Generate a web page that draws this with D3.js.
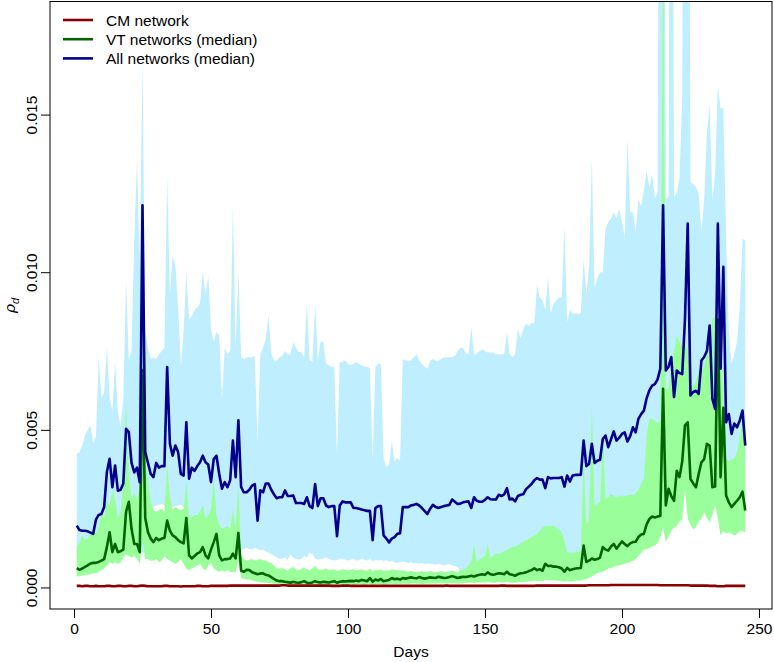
<!DOCTYPE html>
<html>
<head>
<meta charset="utf-8">
<script src="https://cdn.jsdelivr.net/npm/d3@7"></script>
<style>
  body { margin: 0; background: #fff; }
  svg { display: block; }
  text { font-family: "Liberation Sans", Arial, sans-serif; }
</style>
</head>
<body>
<div id="chart"></div>
<script>
// values are in units of 1e-3, one per day (days 1..245)
const allMed = [
  1.96,1.82,1.80,1.80,1.78,1.74,1.70,2.15,2.30,2.33,
  2.55,3.66,4.08,3.18,3.87,3.07,3.10,3.30,5.03,4.93,
  3.95,3.65,3.80,3.34,12.12,4.30,3.95,3.60,3.50,3.95,
  3.80,3.85,3.85,6.99,4.56,4.18,4.50,4.30,3.60,3.55,
  5.24,3.45,3.80,3.70,3.85,3.97,4.18,3.97,3.90,3.34,
  4.07,4.18,3.60,3.13,3.34,3.18,3.40,4.66,3.50,5.30,
  3.18,3.02,3.02,3.10,3.23,3.28,2.12,3.08,3.02,3.30,
  3.30,3.10,2.95,2.83,2.86,2.86,3.08,2.90,2.90,2.92,
  2.68,2.68,2.68,2.65,2.86,2.58,2.52,3.28,2.58,2.83,
  2.83,2.60,2.55,2.58,2.58,1.63,2.60,2.73,2.70,2.70,
  2.70,2.52,2.52,2.50,2.47,2.45,2.43,2.43,1.50,2.52,
  2.58,2.58,1.65,1.55,1.43,1.55,1.60,1.70,1.72,2.55,
  2.55,2.55,2.60,2.62,2.65,2.60,2.52,2.42,2.33,2.50,
  2.62,2.55,2.52,2.55,2.58,2.60,2.62,2.79,2.72,2.65,
  2.66,2.70,2.72,2.73,2.52,2.86,2.75,2.72,2.72,2.78,
  2.86,2.80,2.79,2.79,2.94,2.90,2.95,3.15,2.79,2.82,
  2.73,2.90,2.94,2.96,3.12,3.20,3.28,3.40,3.47,3.42,
  3.42,3.15,3.50,3.46,3.47,3.47,3.47,3.50,3.20,3.55,
  3.36,3.55,3.57,3.57,3.58,4.66,3.85,3.92,4.56,3.95,
  4.02,4.05,4.71,4.82,4.45,4.70,4.95,4.66,4.75,4.87,
  4.92,4.63,4.80,5.08,4.92,5.35,5.50,5.61,6.00,6.25,
  6.40,6.45,6.60,6.94,12.12,6.88,7.00,7.31,6.04,6.88,
  6.80,6.77,8.52,11.54,6.09,6.20,6.24,6.14,7.20,7.31,
  7.50,8.31,5.98,5.66,11.54,6.94,10.17,5.24,5.50,4.87,
  5.20,5.08,5.30,5.61,4.50
];
const allUp = [
  4.24,4.29,4.50,4.82,5.00,5.14,4.60,4.80,7.31,6.00,
  6.20,7.63,6.00,5.60,7.15,5.60,5.10,6.00,9.74,7.20,
  7.50,11.06,13.60,10.20,16.70,8.10,7.60,7.25,7.30,7.25,
  7.40,7.50,7.60,13.07,9.30,10.53,10.20,8.90,7.04,8.10,
  10.00,8.50,8.60,8.80,8.90,9.00,10.00,9.30,9.90,8.20,
  7.80,8.10,8.00,5.98,7.60,7.40,7.50,12.12,7.60,10.00,
  7.30,7.25,7.30,7.30,7.30,7.35,4.60,7.40,7.60,7.90,
  8.63,7.40,7.20,7.20,7.30,7.35,7.50,7.40,7.40,7.78,
  7.60,7.47,7.47,7.30,9.00,7.20,7.15,9.05,7.20,7.80,
  7.80,7.10,7.05,7.00,7.00,4.18,7.15,7.15,7.20,7.10,
  7.05,7.10,7.15,7.10,7.05,7.00,7.00,6.95,4.08,7.00,
  7.10,7.10,4.08,3.82,3.90,4.66,4.00,4.10,4.03,7.25,
  7.20,7.20,7.20,7.30,7.40,7.20,7.10,7.00,6.94,7.20,
  7.25,7.20,7.20,7.25,7.30,7.30,7.30,7.30,7.35,7.50,
  7.60,7.60,7.41,7.40,8.26,7.40,7.40,7.50,7.55,7.50,
  7.45,7.45,7.45,7.40,7.40,7.40,7.40,8.10,7.40,7.30,
  7.40,8.20,7.90,8.20,8.37,8.30,8.40,8.37,9.58,9.20,
  9.10,8.80,9.85,8.70,9.00,9.10,9.20,9.20,11.49,8.42,
  8.80,8.70,8.68,8.68,8.70,10.43,9.30,10.21,13.60,9.50,
  9.80,10.00,10.00,11.38,11.59,11.70,11.91,11.70,12.00,11.60,
  11.12,14.24,11.90,11.90,11.27,12.30,12.10,12.60,13.23,12.70,
  13.10,12.33,12.55,40.00,45.00,12.30,12.40,40.00,12.40,12.50,
  13.00,15.60,40.00,40.00,12.86,12.80,12.70,12.50,11.27,12.30,
  14.45,15.30,12.30,13.10,15.93,15.20,15.20,11.06,8.10,7.10,
  7.40,7.80,8.90,11.06,11.00
];
const allLo = [
  1.10,1.10,1.10,1.10,1.10,1.10,1.10,1.10,1.10,1.10,
  1.10,1.10,1.10,1.10,1.10,1.10,1.10,1.10,1.10,1.10,
  1.10,1.10,1.10,1.10,1.10,1.10,1.10,1.10,2.55,2.60,
  2.62,2.65,2.60,2.65,2.62,2.55,2.58,2.60,2.62,2.55,
  1.60,1.60,1.60,1.60,1.60,1.60,1.60,1.60,1.60,1.60,
  1.60,1.60,1.60,1.60,1.60,1.60,1.60,1.60,1.60,1.60,
  1.20,1.22,1.25,1.22,1.20,1.25,1.22,1.18,1.20,1.15,
  1.10,1.05,1.00,0.95,0.90,0.92,0.95,0.88,1.05,0.95,
  0.90,0.88,0.92,1.00,0.95,1.10,1.05,0.92,0.88,0.90,
  0.92,0.95,0.90,0.88,0.85,0.88,0.90,0.92,0.88,0.85,
  0.88,0.90,0.85,0.87,0.90,0.88,0.85,0.90,0.82,0.88,
  0.85,0.88,0.84,0.86,0.82,0.85,0.80,0.78,0.80,0.82,
  0.80,0.78,0.80,0.76,0.78,0.75,0.78,0.74,0.76,0.75,
  0.74,0.72,0.75,0.72,0.70,0.72,0.74,0.70,0.68,0.65,
  0.50,0.50,0.45,0.45,0.45,0.45,0.45,0.45,0.45,0.45,
  0.45,0.45,0.45,0.45,0.45,0.45,0.45,0.45,0.45,0.45,
  0.45,0.45,0.45,0.45,0.45,0.45,0.45,0.45,0.45,0.45,
  0.45,0.45,0.45,0.45,0.45,0.45,0.45,0.45,0.45,0.45,
  0.45,0.45,0.45,0.45,0.45,0.45,0.47,0.50,0.55,0.60,
  0.65,0.68,0.70,0.75,0.80,0.82,0.85,0.89,0.90,0.92,
  0.95,0.98,1.00,1.05,1.10,1.20,1.30,1.40,1.42,1.45,
  1.50,1.53,1.60,1.80,2.10,1.64,1.80,2.00,2.10,2.16,
  2.30,2.37,3.33,2.37,2.20,2.05,2.10,2.30,2.37,2.59,
  2.40,2.27,2.50,2.80,2.40,1.85,2.00,1.90,1.95,1.90,
  1.85,1.90,2.00,1.98,1.95
];
const vtMed = [
  0.61,0.56,0.60,0.65,0.70,0.76,0.78,0.78,0.81,0.85,
  0.90,1.28,1.75,1.12,1.38,1.12,1.15,1.20,2.40,2.72,
  1.86,1.38,1.38,1.12,6.90,2.20,1.75,1.55,1.44,1.57,
  1.50,1.55,1.57,2.12,1.80,1.65,1.60,1.50,1.44,1.40,
  2.20,1.02,0.92,1.00,1.08,1.12,1.28,1.02,0.92,1.20,
  1.44,1.70,1.02,0.86,0.90,0.90,0.92,1.07,0.92,1.73,
  0.53,0.50,0.56,0.55,0.48,0.45,0.42,0.44,0.45,0.40,
  0.38,0.33,0.27,0.22,0.20,0.20,0.18,0.17,0.15,0.18,
  0.16,0.15,0.17,0.20,0.15,0.14,0.16,0.20,0.17,0.16,
  0.18,0.17,0.16,0.18,0.20,0.15,0.18,0.20,0.19,0.20,
  0.21,0.20,0.22,0.20,0.24,0.22,0.20,0.30,0.18,0.25,
  0.22,0.27,0.20,0.22,0.24,0.30,0.26,0.28,0.25,0.30,
  0.28,0.30,0.32,0.30,0.29,0.33,0.30,0.28,0.30,0.32,
  0.31,0.30,0.34,0.32,0.30,0.31,0.33,0.36,0.33,0.30,
  0.32,0.34,0.33,0.35,0.37,0.35,0.38,0.40,0.42,0.40,
  0.48,0.42,0.40,0.43,0.45,0.44,0.42,0.50,0.42,0.40,
  0.37,0.42,0.45,0.46,0.48,0.52,0.55,0.61,0.55,0.58,
  0.53,0.75,0.68,0.69,0.66,0.66,0.64,0.60,0.50,0.62,
  0.55,0.58,0.60,0.61,0.62,1.33,0.81,0.85,0.92,0.88,
  0.90,0.95,1.28,1.20,1.17,1.30,1.38,1.23,1.35,1.46,
  1.38,1.31,1.40,1.44,1.45,1.60,1.68,1.70,2.00,2.17,
  2.25,2.22,2.25,2.27,6.30,2.60,3.13,2.90,2.75,3.70,
  3.50,4.00,5.14,5.24,3.44,3.30,3.18,3.60,3.97,4.07,
  4.56,4.50,3.18,3.20,8.50,3.50,5.70,2.92,2.70,2.55,
  2.65,2.75,2.86,3.04,2.44
];
const vtUp = [
  1.33,1.40,1.65,1.50,1.55,1.70,1.96,1.70,1.90,2.39,
  2.20,2.81,2.60,3.10,2.81,2.20,2.40,3.30,5.90,3.70,
  2.80,3.00,2.80,3.20,8.50,4.08,3.30,2.70,2.45,2.40,
  2.45,2.50,2.40,3.87,2.90,2.45,2.55,2.50,2.45,2.50,
  3.34,2.20,2.25,2.30,2.30,2.40,2.60,2.20,2.30,2.50,
  3.44,2.30,2.00,1.85,1.90,1.95,1.85,2.50,1.90,3.34,
  1.00,0.90,0.85,0.88,0.90,0.85,0.88,0.90,0.86,0.85,
  0.80,0.78,0.70,0.60,0.60,0.62,0.58,0.55,0.60,0.65,
  0.58,0.55,0.60,0.62,0.58,0.55,0.60,0.68,0.58,0.56,
  0.58,0.60,0.55,0.56,0.58,0.52,0.55,0.58,0.56,0.55,
  0.56,0.58,0.55,0.56,0.58,0.55,0.52,0.60,0.50,0.56,
  0.55,0.58,0.52,0.54,0.55,0.58,0.56,0.55,0.54,0.55,
  0.52,0.50,0.52,0.50,0.48,0.50,0.52,0.48,0.50,0.52,
  0.50,0.48,0.50,0.52,0.50,0.48,0.50,0.55,0.50,0.48,
  0.55,0.58,0.60,0.70,0.80,1.38,0.80,0.90,0.95,1.00,
  1.38,0.95,1.00,1.10,1.05,1.10,1.15,1.20,1.25,1.30,
  1.30,1.33,1.40,1.45,1.50,1.55,1.60,1.65,1.70,1.80,
  1.90,1.96,1.95,1.96,1.95,1.90,1.85,1.75,1.50,1.12,
  1.12,1.10,1.12,1.15,1.15,4.18,2.00,2.20,5.72,2.60,
  2.65,2.70,4.77,2.80,2.85,2.97,2.90,2.85,2.90,2.92,
  2.90,2.92,2.95,2.92,3.00,3.10,3.30,3.44,4.82,5.35,
  5.35,5.30,5.20,5.30,22.00,6.30,6.30,7.00,7.50,8.00,
  7.80,7.60,7.80,7.50,6.44,6.40,6.50,6.90,6.90,7.00,
  7.60,8.00,8.50,8.63,8.63,8.60,6.00,4.10,4.00,4.05,
  4.10,4.30,4.80,5.35,5.30
];
const vtLo = [
  0.37,0.35,0.38,0.40,0.40,0.42,0.45,0.45,0.50,0.55,
  0.60,0.70,0.80,0.75,0.80,0.75,0.80,0.95,1.06,1.00,
  0.95,1.00,0.90,0.75,1.50,0.90,0.90,0.85,0.85,0.90,
  0.80,0.85,1.00,0.90,0.85,0.80,0.75,0.80,0.90,0.75,
  0.60,0.55,0.60,0.65,0.70,0.75,0.60,0.55,0.70,0.80,
  0.60,0.55,0.50,0.55,0.50,0.55,0.50,0.48,0.50,0.85,
  0.30,0.28,0.26,0.25,0.22,0.20,0.18,0.17,0.16,0.15,
  0.14,0.13,0.12,0.12,0.11,0.10,0.10,0.10,0.09,0.10,
  0.09,0.10,0.09,0.10,0.08,0.09,0.10,0.11,0.09,0.08,
  0.09,0.10,0.09,0.08,0.10,0.09,0.10,0.11,0.10,0.09,
  0.10,0.09,0.10,0.11,0.10,0.09,0.10,0.12,0.09,0.10,
  0.11,0.10,0.09,0.10,0.11,0.12,0.11,0.10,0.11,0.12,
  0.12,0.11,0.12,0.13,0.12,0.12,0.11,0.12,0.13,0.12,
  0.13,0.12,0.13,0.14,0.13,0.12,0.13,0.14,0.13,0.12,
  0.13,0.14,0.14,0.15,0.15,0.14,0.15,0.16,0.16,0.15,
  0.17,0.16,0.15,0.16,0.17,0.16,0.16,0.18,0.16,0.15,
  0.15,0.16,0.17,0.17,0.18,0.19,0.20,0.22,0.20,0.21,
  0.20,0.24,0.23,0.23,0.22,0.22,0.21,0.20,0.18,0.20,
  0.19,0.20,0.21,0.21,0.22,0.25,0.27,0.30,0.35,0.40,
  0.45,0.48,0.50,0.55,0.60,0.62,0.65,0.69,0.70,0.72,
  0.75,0.78,0.80,0.85,0.90,1.00,1.10,1.20,1.22,1.25,
  1.30,1.33,1.40,1.60,1.91,1.44,1.60,1.80,1.90,1.96,
  2.10,2.17,3.13,2.17,2.00,1.85,1.90,2.10,2.17,2.39,
  2.20,2.07,2.30,2.60,2.20,1.65,1.80,1.70,1.75,1.70,
  1.65,1.70,1.80,1.78,1.75
];
const cm = [
  0.05,0.05,0.04,0.05,0.05,0.04,0.04,0.05,0.04,0.04,
  0.04,0.05,0.05,0.04,0.04,0.05,0.05,0.04,0.04,0.05,
  0.05,0.04,0.04,0.05,0.06,0.05,0.04,0.04,0.04,0.04,
  0.04,0.04,0.05,0.05,0.04,0.04,0.04,0.04,0.03,0.04,
  0.04,0.04,0.04,0.04,0.05,0.05,0.04,0.04,0.04,0.05,
  0.05,0.05,0.05,0.05,0.05,0.05,0.06,0.06,0.06,0.06,
  0.06,0.06,0.06,0.06,0.06,0.06,0.06,0.06,0.06,0.06,
  0.06,0.06,0.06,0.06,0.06,0.07,0.07,0.06,0.06,0.06,
  0.06,0.06,0.06,0.06,0.06,0.06,0.06,0.06,0.06,0.06,
  0.06,0.06,0.06,0.05,0.05,0.05,0.05,0.06,0.06,0.06,
  0.05,0.05,0.05,0.05,0.05,0.05,0.05,0.05,0.05,0.05,
  0.05,0.05,0.05,0.05,0.05,0.05,0.05,0.05,0.05,0.05,
  0.05,0.05,0.05,0.05,0.05,0.05,0.05,0.05,0.05,0.05,
  0.05,0.05,0.05,0.05,0.05,0.06,0.05,0.05,0.05,0.05,
  0.05,0.05,0.05,0.05,0.05,0.05,0.05,0.05,0.05,0.05,
  0.05,0.05,0.05,0.05,0.05,0.06,0.06,0.05,0.05,0.05,
  0.05,0.05,0.05,0.05,0.05,0.05,0.05,0.05,0.06,0.06,
  0.06,0.06,0.06,0.06,0.06,0.06,0.06,0.06,0.06,0.06,
  0.06,0.06,0.06,0.06,0.06,0.06,0.06,0.07,0.07,0.07,
  0.07,0.07,0.07,0.07,0.07,0.08,0.08,0.08,0.08,0.08,
  0.08,0.08,0.08,0.08,0.08,0.08,0.08,0.08,0.08,0.08,
  0.08,0.08,0.08,0.07,0.07,0.07,0.07,0.07,0.07,0.07,
  0.07,0.07,0.07,0.07,0.06,0.06,0.06,0.06,0.06,0.06,
  0.06,0.05,0.05,0.05,0.04,0.04,0.04,0.05,0.05,0.05,
  0.05,0.05,0.05,0.05,0.05
];
const xTicks = [0, 50, 100, 150, 200, 250];
const yTicks = [0, 0.005, 0.010, 0.015];
const legendLabels = ["CM network", "VT networks (median)", "All networks (median)"];

const lens = [allMed, allUp, allLo, vtMed, vtUp, vtLo, cm].map(a => a.length);
if (lens.some(l => l !== 245)) throw new Error("length mismatch " + lens.join(","));

const days = allMed.map((_, i) => i + 1);
const rows = days.map((d, i) => ({
  day: d,
  allMed: allMed[i] / 1000, allUp: allUp[i] / 1000, allLo: allLo[i] / 1000,
  vtMed: vtMed[i] / 1000, vtUp: vtUp[i] / 1000, vtLo: vtLo[i] / 1000,
  cm: cm[i] / 1000
}));

const W = 774, H = 662;
const box = { left: 50, right: 772, top: 1.5, bottom: 609 };
const fs = 15.5;

const x = d3.scaleLinear().domain([-8.76, 254.76]).range([box.left, box.right]);
const y = d3.scaleLinear().domain([-0.000683, 0.018587]).range([box.bottom, box.top]);

const svg = d3.select("#chart").append("svg")
  .attr("width", W).attr("height", H);

svg.append("clipPath").attr("id", "plotclip")
  .append("rect")
  .attr("x", box.left).attr("y", box.top)
  .attr("width", box.right - box.left).attr("height", box.bottom - box.top);

const plot = svg.append("g").attr("clip-path", "url(#plotclip)");

// bands
plot.append("path").datum(rows)
  .attr("fill", "#BFEFFF")
  .attr("d", d3.area().x(d => x(d.day)).y0(d => y(d.allLo)).y1(d => y(d.allUp)));
plot.append("path").datum(rows)
  .attr("fill", "#9AFF9A")
  .attr("d", d3.area().x(d => x(d.day)).y0(d => y(d.vtLo)).y1(d => y(d.vtUp)));

// median lines
const series = [
  { key: "cm", color: "#8B0000" },
  { key: "vtMed", color: "#006400" },
  { key: "allMed", color: "#00008B" }
];
series.forEach(s => {
  plot.append("path").datum(rows)
    .attr("fill", "none")
    .attr("stroke", s.color)
    .attr("stroke-width", 2.6)
    .attr("stroke-linejoin", "round")
    .attr("d", d3.line().x(d => x(d.day)).y(d => y(d[s.key])));
});

// box
svg.append("rect")
  .attr("x", box.left).attr("y", box.top)
  .attr("width", box.right - box.left).attr("height", box.bottom - box.top)
  .attr("fill", "none").attr("stroke", "#000").attr("stroke-width", 1);

// x axis
const gx = svg.append("g")
  .attr("transform", `translate(0,${box.bottom})`)
  .call(d3.axisBottom(x).tickValues(xTicks).tickSize(9).tickFormat(d3.format("d")));
gx.select(".domain").remove();
gx.selectAll(".tick line").attr("stroke", "#000");
gx.selectAll(".tick text")
  .attr("y", 25).attr("dy", 0)
  .attr("fill", "#000")
  .style("font-size", fs + "px")
  .style("font-family", '"Liberation Sans", Arial, sans-serif');

// y axis
const gy = svg.append("g")
  .attr("transform", `translate(${box.left},0)`)
  .call(d3.axisLeft(y).tickValues(yTicks).tickSize(9).tickFormat(d3.format(".3f")));
gy.select(".domain").remove();
gy.selectAll(".tick line").attr("stroke", "#000");
gy.selectAll(".tick text")
  .attr("x", 0).attr("y", -13).attr("dy", 0)
  .attr("text-anchor", "middle")
  .attr("transform", "rotate(-90)")
  .attr("fill", "#000")
  .style("font-size", fs + "px")
  .style("font-family", '"Liberation Sans", Arial, sans-serif');

// axis titles
svg.append("text")
  .attr("x", (box.left + box.right) / 2).attr("y", 657)
  .attr("text-anchor", "middle")
  .style("font-size", fs + "px")
  .text("Days");

const yl = svg.append("text")
  .attr("transform", `translate(15,${(box.top + box.bottom) / 2}) rotate(-90)`)
  .attr("text-anchor", "middle")
  .style("font-size", fs + "px")
  .style("font-style", "italic");
yl.append("tspan").text("ρ");
yl.append("tspan").attr("dy", 4).style("font-size", "11px").text("d");

// legend
const legend = svg.append("g");
legendLabels.forEach((lab, i) => {
  const ly = 20 + i * 19.2;
  legend.append("line")
    .attr("x1", 63).attr("x2", 93).attr("y1", ly).attr("y2", ly)
    .attr("stroke", series[i].color).attr("stroke-width", 2.6);
  legend.append("text")
    .attr("x", 106).attr("y", ly + 5.5)
    .style("font-size", fs + "px")
    .text(lab);
});
</script>
</body>
</html>
